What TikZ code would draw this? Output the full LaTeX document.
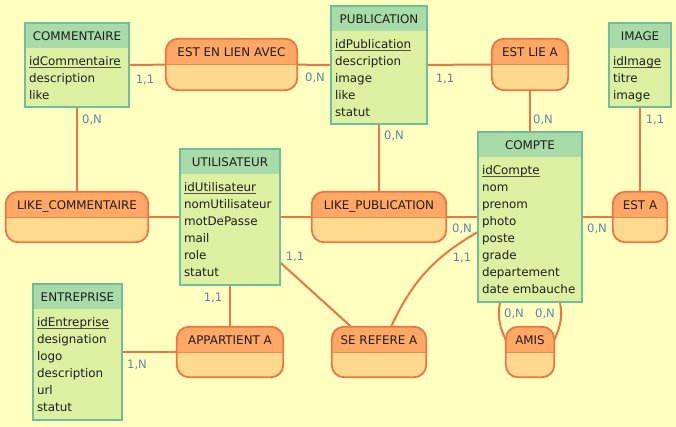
\documentclass[tikz,border=0pt]{standalone}
\usepackage{fontspec}
\setmainfont{DejaVu Sans}
\usetikzlibrary{backgrounds}
\definecolor{bgc}{HTML}{FFFFC0}
\definecolor{enthd}{HTML}{A8DBA8}
\definecolor{entbd}{HTML}{DDF0A2}
\definecolor{entbr}{HTML}{6CBE9C}
\definecolor{ashd}{HTML}{FFA865}
\definecolor{asbd}{HTML}{FFD98E}
\definecolor{asbr}{HTML}{EC7446}
\definecolor{asdv}{HTML}{F08A50}
\definecolor{lnc}{HTML}{EC7446}
\definecolor{txt}{HTML}{1E1E1E}
\definecolor{labc}{HTML}{5A87B0}
\definecolor{ulc}{HTML}{55553A}
\newcommand\keyu[1]{\setbox0\hbox{#1}\rlap{\color{ulc}\rule[-2.4pt]{\wd0}{1.3pt}}\box0}
\tikzset{
 txtfont/.style={font=\fontsize{11.9}{14}\selectfont, text=txt, inner sep=0pt},
 labfont/.style={font=\fontsize{11.6}{14}\selectfont, text=labc, inner sep=0pt},
 link/.style={draw=lnc, line width=2pt},
 entnode/.style={rectangle, fill=entbd, inner sep=0pt},
 asnode/.style={rectangle, rounded corners=12pt, fill=asbd, inner sep=0pt},
}
\newcommand\entity[7]{%
 \node[entnode, minimum width={#4-#2}, minimum height={#5-#3}] (#1) at ({(#2+#4)/2},{(#3+#5)/2}) {};
 \fill[enthd] (#1.north west) rectangle ([yshift=-25pt]#1.north east);
 \draw[entbr, line width=1.8pt] (#1.south west) rectangle (#1.north east);
 \node[txtfont, anchor=base] (#1-t) at ([yshift=-17.5pt]#1.north) {#6};
 \foreach \r [count=\i] in {#7} {\node[txtfont, anchor=base west] (#1-r\i) at ([xshift=4pt,yshift={-43pt-(\i-1)*16.9pt}]#1.north west) {\r};}
}
\newcommand\assoc[6]{%
 \node[asnode, minimum width={#4-#2}, minimum height={#5-#3}] (#1) at ({(#2+#4)/2},{(#3+#5)/2}) {};
 \begin{scope}
  \clip[rounded corners=12pt] (#1.south west) rectangle (#1.north east);
  \fill[ashd] (#1.north west) rectangle ([yshift=-25.5pt]#1.north east);
  \draw[asdv, line width=0.8pt] ([yshift=-25.5pt]#1.north west) -- ([yshift=-25.5pt]#1.north east);
 \end{scope}
 \draw[asbr, line width=1.8pt, rounded corners=12pt] (#1.south west) rectangle (#1.north east);
 \node[txtfont, anchor=base] (#1-t) at ([yshift=-18pt]#1.north) {#6};
}
\begin{document}
\begin{tikzpicture}[x=1pt,y=-1pt]
\useasboundingbox (0,0) rectangle (676,427);
% entities
\entity{commentaire}{25}{23}{129}{107}{COMMENTAIRE}{\keyu{idCommentaire},description,like}
\entity{publication}{331}{6}{427}{124}{PUBLICATION}{\keyu{idPublication},description,image,like,statut}
\entity{image}{609}{23}{671}{107}{IMAGE}{\keyu{idImage},titre,image}
\entity{utilisateur}{180}{149}{280}{285}{UTILISATEUR}{\keyu{idUtilisateur},nomUtilisateur,motDePasse,mail,role,statut}
\entity{compte}{478}{132}{582}{302}{COMPTE}{\keyu{idCompte},nom,prenom,photo,poste,grade,departement,date embauche}
\entity{entreprise}{33}{284}{122}{420}{ENTREPRISE}{\keyu{idEntreprise},designation,logo,description,url,statut}
% associations
\assoc{estenlien}{166}{39}{297}{90}{EST EN LIEN AVEC}
\assoc{estliea}{492}{39}{568}{90}{EST LIE A}
\assoc{likecomm}{6}{192}{148}{242}{LIKE\_COMMENTAIRE}
\assoc{likepub}{312}{192}{446}{242}{LIKE\_PUBLICATION}
\assoc{esta}{613}{192}{667}{242}{EST A}
\assoc{appartient}{177}{327}{283}{377}{APPARTIENT A}
\assoc{serefere}{332}{327}{426}{377}{SE REFERE A}
\assoc{amis}{506}{327}{554}{377}{AMIS}
% connectors
\begin{pgfonlayer}{background}
\fill[bgc] (0,0) rectangle (676,427);
\draw[link] (commentaire.center) -- (estenlien.center) -- (publication.center) -- (estliea.center);
\draw[link] (estliea.center) -- (estliea.center |- compte.center);
\draw[link] (image.center) -- (esta.center);
\draw[link] (commentaire.center) -- (likecomm.center);
\draw[link] (likecomm.center) -- (utilisateur.center) -- (likepub.center) -- (compte.center) -- (esta.center);
\draw[link] (publication.center) -- (likepub.center);
\draw[link] (utilisateur.center) -- (appartient.center);
\draw[link] (entreprise.center) -- (appartient.center);
\draw[link] (utilisateur.center) -- (serefere.center);
\draw[link] ([xshift=12pt]serefere.north) to[out=65,in=210] ([yshift=-15pt]compte.west);
\draw[link] ([xshift=-30pt]compte.south) to[out=-100,in=115] ([yshift=12pt]amis.west);
\draw[link] ([xshift=30pt]compte.south) to[out=-80,in=65] ([yshift=12pt]amis.east);
\end{pgfonlayer}
% cardinalities
\node[labfont] (c1) at (145,80) {1,1};
\node[labfont] (c2) at (315,78) {0,N};
\node[labfont] (c3) at (445,79) {1,1};
\node[labfont] (c4) at (543,120) {0,N};
\node[labfont] (c5) at (655,120) {1,1};
\node[labfont] (c6) at (92,120) {0,N};
\node[labfont] (c7) at (394,136) {0,N};
\node[labfont] (c8) at (462,229) {0,N};
\node[labfont] (c9) at (597,229) {0,N};
\node[labfont] (c10) at (462,258) {1,1};
\node[labfont] (c11) at (295,257) {1,1};
\node[labfont] (c12) at (213,298) {1,1};
\node[labfont] (c13) at (137,365) {1,N};
\node[labfont] (c14) at (514,314) {0,N};
\node[labfont] (c15) at (545,314) {0,N};
\end{tikzpicture}
\end{document}
